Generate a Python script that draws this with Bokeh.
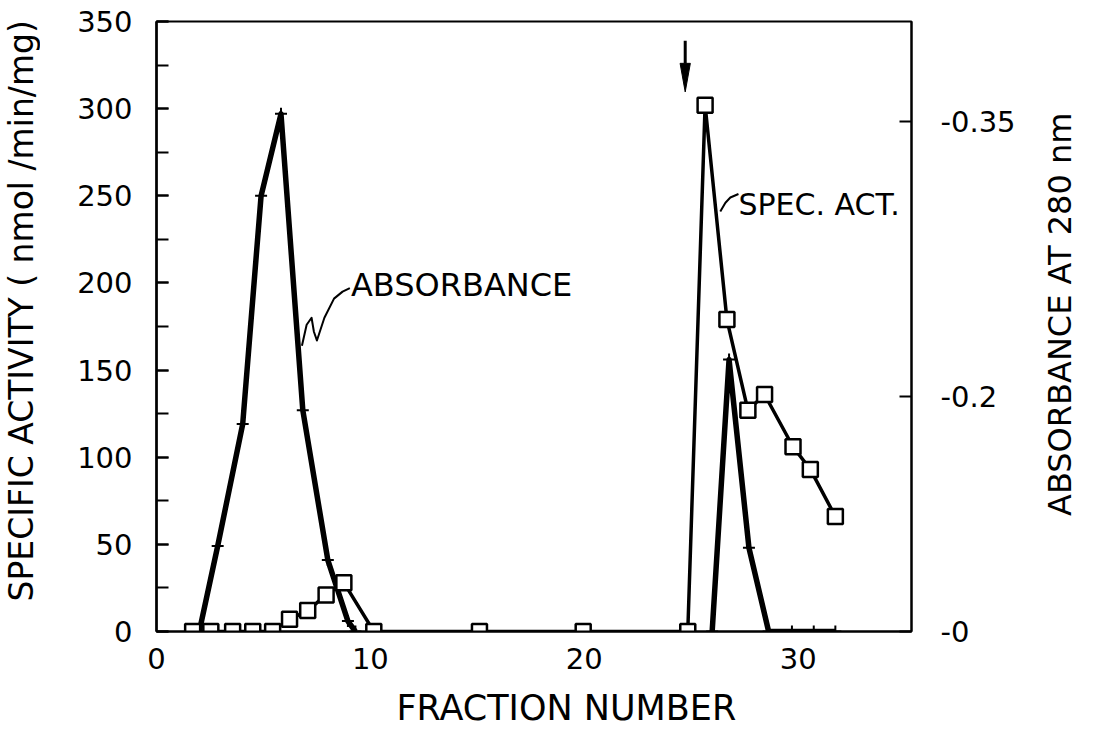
import math
from bokeh.plotting import figure
from bokeh.layouts import row, column
from bokeh.models import (LinearAxis, FixedTicker, SingleIntervalTicker, Range1d,
                          ColumnDataSource)
from bokeh.core.properties import value
from bokeh.embed import file_html
from bokeh.resources import INLINE

# ---------------- data ----------------
spec_act_fraction = [1.69, 2.54, 3.56, 4.5, 5.43, 6.22, 7.07, 7.93, 8.76, 10.16,
                     15.1, 19.95, 24.84, 25.65, 26.67, 27.65, 28.43, 29.76, 30.57, 31.74]
spec_act_value = [0, 0, 0, 0, 0, 7, 12, 21, 28, 0,
                  0, 0, 0, 302, 179, 127, 136, 106, 93, 66]

abs_peak1_fraction = [2.0, 2.86, 4.03, 4.89, 5.82, 6.84, 8.01, 8.95, 9.3]
abs_peak1_value = [0, 49, 119, 250, 297, 127, 41, 6, 0]
abs_peak2_fraction = [25.98, 26.77, 27.7, 28.62, 29.71, 30.73, 31.74]
abs_peak2_value = [0, 156, 48, 0, 0, 0, 0]

x_ticks = [0, 10, 20, 30]
right_tick_pos = [0, 134.8, 292.6]
right_tick_labels = ["-0", "-0.2", "-0.35"]

x_title = "FRACTION NUMBER"
left_title = "SPECIFIC ACTIVITY ( nmol /min/mg)"
right_title = "ABSORBANCE AT 280 nm"

# annotation placement (data units)
abs_label = "ABSORBANCE"
abs_label_pos = (9.09, 199)
abs_leader_x = [6.80, 7.02, 7.25, 7.36, 7.50, 7.85, 8.30, 8.70, 9.04]
abs_leader_y = [164, 176, 180, 172, 167, 180, 191, 195, 197]
sa_label = "SPEC. ACT."
sa_label_pos = (27.21, 245)
sa_leader_x = [26.36, 26.6, 26.83, 27.21]
sa_leader_y = [241, 246, 249, 251]
arrow_x = 24.72
arrow_tail, arrow_base, arrow_tip = 339, 326, 309.6
arrow_half = 0.24
# title positions inside the side strips
left_title_pos = (21, 184)
right_title_pos = (24, 182)
x_title_pos = (19.16, 26)

FONT = "DejaVu Sans"
LW, MAIN_W, RW = 40, 995, 45        # strip / main / strip widths
PH, BH = 685, 48                    # main height, bottom strip height
TOP, BOTTOM = 21, 54
FRAME_L, FRAME_R = 156, 911         # frame edges in page pixels

p = figure(width=MAIN_W, height=PH, x_range=Range1d(0, 35.3), y_range=Range1d(0, 350),
           output_backend="svg", toolbar_location=None,
           min_border_left=FRAME_L - LW, min_border_right=LW + MAIN_W - FRAME_R,
           min_border_top=TOP, min_border_bottom=BOTTOM)
p.xgrid.visible = False
p.ygrid.visible = False
p.outline_line_color = "black"
p.outline_line_width = 2
p.background_fill_color = "white"
p.border_fill_color = "white"

# x axis
xa = p.xaxis[0]
xa.ticker = FixedTicker(ticks=x_ticks, minor_ticks=[])
xa.major_tick_in = 0
xa.major_tick_out = 0
xa.axis_line_width = 2
xa.major_label_standoff = 16
xa.major_label_text_font = FONT
xa.major_label_text_font_size = "29px"
xa.major_label_text_color = "black"

# left axis
ya = p.yaxis[0]
ya.ticker = SingleIntervalTicker(interval=50, num_minor_ticks=2)
ya.major_tick_in = 12
ya.major_tick_out = 0
ya.minor_tick_in = 12
ya.minor_tick_out = 0
ya.major_tick_line_width = 2
ya.minor_tick_line_width = 2
ya.axis_line_width = 2.5
ya.major_label_standoff = 24
ya.major_label_text_font = FONT
ya.major_label_text_font_size = "29px"
ya.major_label_text_color = "black"

# right axis
ra = LinearAxis(ticker=FixedTicker(ticks=right_tick_pos, minor_ticks=[]))
ra.major_label_overrides = {t: l for t, l in zip(right_tick_pos, right_tick_labels)}
ra.major_tick_in = 12
ra.major_tick_out = 0
ra.major_tick_line_width = 2
ra.axis_line_width = 2
ra.major_label_standoff = 29
ra.major_label_text_font = FONT
ra.major_label_text_font_size = "29px"
ra.major_label_text_color = "black"
p.add_layout(ra, "right")

# absorbance lines
for fx, fy in ((abs_peak1_fraction, abs_peak1_value), (abs_peak2_fraction, abs_peak2_value)):
    src = ColumnDataSource(dict(x=fx, y=fy))
    p.line("x", "y", source=src, line_width=5.5, line_color="black", line_join="round")
    p.scatter("x", "y", source=src, marker="cross", size=12, line_width=2, line_color="black")

# specific activity
sa = ColumnDataSource(dict(x=spec_act_fraction, y=spec_act_value))
p.line("x", "y", source=sa, line_width=3.5, line_color="black", line_join="round")
p.scatter("x", "y", source=sa, marker="square", size=15, fill_color="white",
          line_color="black", line_width=2.5)

# annotations
p.line(abs_leader_x, abs_leader_y, line_width=2, line_color="black", line_join="round")
p.text(x=[abs_label_pos[0]], y=[abs_label_pos[1]], text=[abs_label],
       text_font=value(FONT), text_font_size="32px", text_align="left",
       text_baseline="middle", text_color="black")
p.line(sa_leader_x, sa_leader_y, line_width=2, line_color="black", line_join="round")
p.text(x=[sa_label_pos[0]], y=[sa_label_pos[1]], text=[sa_label],
       text_font=value(FONT), text_font_size="30px", text_align="left",
       text_baseline="middle", text_color="black")
p.segment(x0=[arrow_x], y0=[arrow_tail], x1=[arrow_x], y1=[arrow_base],
          line_width=3, line_color="black")
p.patch([arrow_x - arrow_half, arrow_x + arrow_half, arrow_x],
        [arrow_base, arrow_base, arrow_tip], fill_color="black", line_color="black")


def strip(width, height, x_range, y_range, **borders):
    f = figure(width=width, height=height, x_range=x_range, y_range=y_range,
               output_backend="svg", toolbar_location=None, x_axis_type=None,
               y_axis_type=None, **borders)
    f.outline_line_color = None
    f.background_fill_color = "white"
    f.border_fill_color = "white"
    return f


# left strip: y title reading bottom to top
ls = strip(LW, PH, Range1d(0, LW), p.y_range, min_border_left=0, min_border_right=0,
           min_border_top=TOP, min_border_bottom=BOTTOM)
ls.text(x=[left_title_pos[0]], y=[left_title_pos[1]], text=[left_title],
        angle=math.pi / 2, text_font=value(FONT), text_font_size="33px",
        text_align="center", text_baseline="middle", text_color="black")

# right strip: absorbance title reading bottom to top
rs = strip(RW, PH, Range1d(0, RW), p.y_range, min_border_left=0, min_border_right=0,
           min_border_top=TOP, min_border_bottom=BOTTOM)
rs.text(x=[right_title_pos[0]], y=[right_title_pos[1]], text=[right_title],
        angle=math.pi / 2, text_font=value(FONT), text_font_size="32px",
        text_align="center", text_baseline="middle", text_color="black")

# bottom strip: x title
total_w = LW + MAIN_W + RW
bs = strip(total_w, BH, p.x_range, Range1d(0, BH), min_border_left=FRAME_L,
           min_border_right=total_w - FRAME_R, min_border_top=0, min_border_bottom=0)
bs.text(x=[x_title_pos[0]], y=[x_title_pos[1]], text=[x_title],
        text_font=value(FONT), text_font_size="35px", text_align="center",
        text_baseline="middle", text_color="black")

layout = column(row(ls, p, rs), bs)
open("out.html", "w").write(file_html(layout, INLINE))
